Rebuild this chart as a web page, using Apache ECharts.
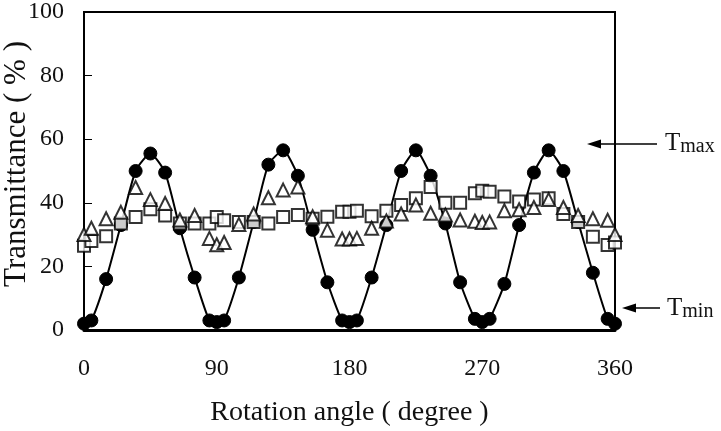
<!DOCTYPE html>
<html>
<head>
<meta charset="utf-8">
<script src="https://cdn.jsdelivr.net/npm/echarts@6/dist/echarts.min.js"></script>
<style>html,body{margin:0;padding:0;background:#fff}#c{width:721px;height:431px}</style>
</head>
<body>
<div id="c"></div>
<script>
var angles = [0,5,15,25,35,45,55,65,75,85,90,95,105,115,125,135,145,155,165,175,180,185,195,205,215,225,235,245,255,265,270,275,285,295,305,315,325,335,345,355,360];
var circleVals = [2,3,16,33,50,55.5,49.5,32,16.5,3,2.5,3,16.5,34,52,56.5,48.5,31.5,15,3,2.5,3,16.5,33,50,56.5,48.5,33.5,15,3.5,2.5,3.5,14.5,33,49.5,56.5,50,34,18,3.5,2];
var squareVals = [26.5,28,29.5,33.5,35.5,38,36,33.5,33.5,33.5,35.5,34.5,34,34,33.5,35.5,36.2,35,35.6,37.2,37.2,37.5,35.8,37.5,39.3,41.4,45,40,40,43,43.8,43.5,42,40.4,41,41.4,36.5,34,29.3,26.7,27.5];
var triangleVals = [30,32,35,37,44.8,41,39.8,34.6,36,28.8,26.8,27.5,33.2,36.5,41.6,44,45,35.6,31.4,28.6,28.6,28.8,32,34.3,36.5,39.3,36.7,36.2,34.6,34.2,33.8,34,37.5,37.8,38.5,41,38.5,36,35,34.5,30];
var xTicks = [0,90,180,270,360];
var yTicks = [0,20,40,60,80,100];

function pairs(v){ return angles.map(function(a,i){ return [a, v[i]]; }); }

var serif = '"Liberation Serif", "DejaVu Serif", serif';
var chart = echarts.init(document.getElementById('c'));
chart.setOption({
  animation: false,
  backgroundColor: '#fff',
  grid: { left: 84, right: 106, top: 12, bottom: 101, containLabel: false, outerBoundsMode: 'none',
    show: true, borderColor: '#000', borderWidth: 2, backgroundColor: 'transparent' },
  xAxis: {
    type: 'value', min: 0, max: 360, interval: 90,
    name: 'Rotation angle ( degree )', nameLocation: 'middle', nameGap: 69,
    nameTextStyle: { fontFamily: serif, fontSize: 28, color: '#111' },
    axisLine: { lineStyle: { color: '#000', width: 3 } },
    axisTick: { show: false },
    splitLine: { show: false },
    axisLabel: { fontFamily: serif, fontSize: 24, color: '#111', margin: 27,
      formatter: function(v){ return xTicks.indexOf(v) >= 0 ? String(v) : ''; } }
  },
  yAxis: {
    type: 'value', min: 0, max: 100, interval: 20,
    axisLine: { show: true, lineStyle: { color: '#000', width: 2 } },
    axisTick: { show: true, inside: true, length: 8, lineStyle: { color: '#000', width: 1 } },
    splitLine: { show: false },
    axisLabel: { fontFamily: serif, fontSize: 24, color: '#111', margin: 20,
      formatter: function(v){ return yTicks.indexOf(v) >= 0 ? String(v) : ''; } }
  },
  series: [
    { type: 'line', data: pairs(circleVals), smooth: 0.2, symbol: 'circle', symbolSize: 13,
      lineStyle: { color: '#000', width: 2 }, itemStyle: { color: '#000', borderColor: '#000' }, z: 2 },
    { type: 'scatter', data: pairs(squareVals), symbol: 'rect', symbolSize: 12,
      itemStyle: { color: '#fff', borderColor: '#000', borderWidth: 2 }, z: 3 },
    { type: 'scatter', data: pairs(triangleVals), symbol: 'triangle', symbolSize: 13,
      itemStyle: { color: '#fff', borderColor: '#000', borderWidth: 2 }, z: 4 }
  ],
  graphic: [
    { type: 'text', x: 17, y: 164, rotation: Math.PI / 2,
      style: { text: 'Transmittance ( % )', fontFamily: serif, fontSize: 31, fill: '#111', align: 'center', verticalAlign: 'middle' } },
    { type: 'line', shape: { x1: 598, y1: 144, x2: 657, y2: 144 }, style: { stroke: '#000', lineWidth: 1.5 } },
    { type: 'polygon', shape: { points: [[587,144],[601,139.5],[601,148.5]] }, style: { fill: '#000' } },
    { type: 'line', shape: { x1: 633, y1: 308, x2: 660, y2: 308 }, style: { stroke: '#000', lineWidth: 1.5 } },
    { type: 'polygon', shape: { points: [[622,308],[636,303.5],[636,312.5]] }, style: { fill: '#000' } },
    { type: 'text', left: 665, top: 131, style: { text: '{a|T}{b|max}', rich: { a: { fontFamily: serif, fontSize: 25, fill: '#111' }, b: { fontFamily: serif, fontSize: 20, fill: '#111', verticalAlign: 'bottom', padding: [6,0,0,0] } } } },
    { type: 'text', left: 667, top: 296, style: { text: '{a|T}{b|min}', rich: { a: { fontFamily: serif, fontSize: 25, fill: '#111' }, b: { fontFamily: serif, fontSize: 20, fill: '#111', verticalAlign: 'bottom', padding: [6,0,0,0] } } } }
  ]
});
</script>
</body>
</html>
